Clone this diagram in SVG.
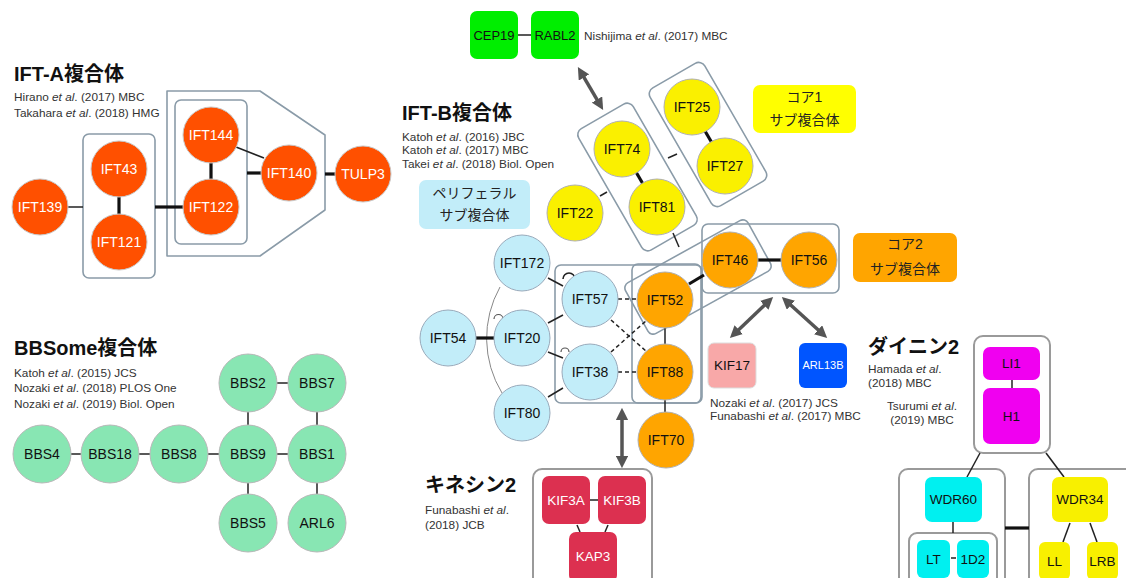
<svg xmlns="http://www.w3.org/2000/svg" width="1126" height="578" viewBox="0 0 1126 578">
<style>
text{font-family:"Liberation Sans","Noto Sans CJK JP",sans-serif;}
.title{font-size:20px;font-weight:bold;fill:#111;}
.ref{font-size:11.8px;fill:#333;}
.lbl{font-size:14px;fill:#111;text-anchor:middle;}
.wl{font-size:14px;fill:#fff;text-anchor:middle;}
.sm{font-size:13.5px;}
.jp{font-size:14px;fill:#222;text-anchor:middle;}
.a{fill:#FF5000;stroke:#c8c8c8;stroke-width:1;}
.g{fill:#88E6B3;stroke:#b8b8b8;stroke-width:1;}
.y{fill:#FAF000;stroke:#b0b0b0;stroke-width:1;}
.o{fill:#FFA500;stroke:#b0b0b0;stroke-width:1;}
.c{fill:#C2EDF9;stroke:#9ab;stroke-width:1;}
.box{fill:none;stroke:#8A9BA8;stroke-width:1.6;}
.dbox{fill:#fff;stroke:#9a9a9a;stroke-width:2;}
.e{stroke:#222;stroke-width:1.5;fill:none;}
.t{stroke:#111;stroke-width:3.2;fill:none;}
.d{stroke:#222;stroke-width:1.5;stroke-dasharray:4 3;fill:none;}
.arr{stroke:#555;stroke-width:3.5;fill:none;marker-start:url(#ah);marker-end:url(#ah);}
</style>
<defs>
<marker id="ah" viewBox="0 0 10 10" refX="3" refY="5" markerWidth="3.5" markerHeight="3.5" orient="auto-start-reverse">
<path d="M0,0 L10,5 L0,10 z" fill="#555"/>
</marker>
</defs>

<!-- titles and references -->
<g id="texts">
<text class="title" x="14" y="81">IFT-A複合体</text>
<text class="ref" x="14" y="101">Hirano <tspan font-style="italic">et al</tspan>. (2017) MBC</text>
<text class="ref" x="14" y="117">Takahara <tspan font-style="italic">et al</tspan>. (2018) HMG</text>

<text class="title" x="14" y="355">BBSome複合体</text>
<text class="ref" x="14" y="377">Katoh <tspan font-style="italic">et al</tspan>. (2015) JCS</text>
<text class="ref" x="14" y="392">Nozaki <tspan font-style="italic">et al</tspan>. (2018) PLOS One</text>
<text class="ref" x="14" y="408">Nozaki <tspan font-style="italic">et al</tspan>. (2019) Biol. Open</text>

<text class="title" x="402" y="120">IFT-B複合体</text>
<text class="ref" x="402" y="141">Katoh <tspan font-style="italic">et al</tspan>. (2016) JBC</text>
<text class="ref" x="402" y="154">Katoh <tspan font-style="italic">et al</tspan>. (2017) MBC</text>
<text class="ref" x="402" y="168">Takei <tspan font-style="italic">et al</tspan>. (2018) Biol. Open</text>

<text class="ref" x="584" y="40">Nishijima <tspan font-style="italic">et al</tspan>.  (2017) MBC</text>
<text class="ref" x="710" y="407">Nozaki <tspan font-style="italic">et al</tspan>. (2017) JCS</text>
<text class="ref" x="710" y="420">Funabashi <tspan font-style="italic">et al</tspan>.  (2017) MBC</text>

<text class="title" x="425" y="492">キネシン2</text>
<text class="ref" x="425" y="514">Funabashi <tspan font-style="italic">et al</tspan>.</text>
<text class="ref" x="425" y="529">(2018) JCB</text>

<text class="title" x="868" y="354">ダイニン2</text>
<text class="ref" x="868" y="373">Hamada <tspan font-style="italic">et al</tspan>.</text>
<text class="ref" x="868" y="387">(2018) MBC</text>
<text class="ref" x="922" y="410" text-anchor="middle">Tsurumi <tspan font-style="italic">et al</tspan>.</text>
<text class="ref" x="922" y="424" text-anchor="middle">(2019) MBC</text>
</g>

<!-- subcomplex labels -->
<g id="label-core1">
<rect x="753" y="85" width="103" height="48" rx="7" fill="#FFFF00"/>
<text class="jp" x="804.5" y="102">コア1</text>
<text class="jp" x="804.5" y="125">サブ複合体</text>
</g>
<g id="label-core2">
<rect x="853" y="233" width="104" height="49" rx="7" fill="#FFA500"/>
<text class="jp" x="905" y="249">コア2</text>
<text class="jp" x="905" y="274">サブ複合体</text>
</g>
<g id="label-peripheral">
<rect x="419" y="180" width="111" height="49" rx="7" fill="#C2EDF9"/>
<text class="jp" x="474.5" y="198">ペリフェラル</text>
<text class="jp" x="474.5" y="220">サブ複合体</text>
</g>

<!-- complex boxes -->
<g id="complex-boxes">
<rect class="box" x="83" y="134" width="72" height="144" rx="6"/>
<rect class="box" x="175" y="100" width="72" height="144" rx="6"/>
<polygon class="box" points="167,91 260,91 325,135 325,210 260,256 167,256" stroke-linejoin="round"/>
<rect class="box" x="-31.5" y="-70" width="63" height="140" rx="7" transform="translate(637.5,177) rotate(-30)"/>
<rect class="box" x="-31.5" y="-68" width="63" height="136" rx="7" transform="translate(708,134.5) rotate(-30)"/>
<rect class="box" x="702" y="224" width="137" height="69" rx="6"/>
<rect class="box" x="-70" y="-29" width="140" height="58" rx="6" transform="translate(698,277) rotate(-29)"/>
<rect class="box" x="555" y="265" width="147" height="138" rx="6"/>
<rect class="box" x="632" y="264" width="69" height="139" rx="6"/>
<rect class="dbox" x="533" y="469" width="119" height="120" rx="9"/>
<rect class="dbox" x="974" y="336" width="76" height="117" rx="9"/>
<rect class="dbox" x="899" y="469" width="106" height="120" rx="9"/>
<rect class="dbox" x="909" y="533" width="88" height="56" rx="8"/>
<rect class="dbox" x="1029" y="469" width="110" height="120" rx="9"/>
</g>

<!-- connectors -->
<g id="connectors">
<!-- IFT-A -->
<line class="e" x1="68" y1="207" x2="83" y2="207"/>
<line class="t" x1="119" y1="197" x2="119" y2="214"/>
<line class="t" x1="155" y1="207" x2="183" y2="207"/>
<line class="t" x1="211" y1="163" x2="211" y2="179"/>
<line class="e" x1="236" y1="147" x2="264" y2="158"/>
<line class="t" x1="247" y1="173" x2="262" y2="173"/>
<line class="t" x1="325" y1="174" x2="336" y2="174"/>
<!-- BBSome -->
<line class="e" x1="71" y1="454" x2="81" y2="454"/>
<line class="e" x1="139" y1="454" x2="150" y2="454"/>
<line class="e" x1="208" y1="454" x2="219" y2="454"/>
<line class="e" x1="277" y1="454" x2="288" y2="454"/>
<line class="e" x1="277" y1="383" x2="288" y2="383"/>
<line class="e" x1="248" y1="412" x2="248" y2="425"/>
<line class="e" x1="317" y1="412" x2="317" y2="425"/>
<line class="e" x1="248" y1="483" x2="248" y2="494"/>
<line class="e" x1="317" y1="483" x2="317" y2="494"/>
<!-- CEP19-RABL2 -->
<line class="e" x1="518" y1="35" x2="531" y2="35" stroke-width="2"/>
<!-- IFT-B core1 -->
<line class="t" x1="636" y1="172" x2="643" y2="184"/>
<line class="t" x1="705" y1="131" x2="712" y2="143"/>
<line class="e" x1="600" y1="196" x2="607" y2="192"/>
<line class="e" x1="668" y1="158" x2="677" y2="154"/>
<line class="e" x1="673" y1="233" x2="679" y2="247"/>
<!-- core2 -->
<line class="t" x1="689" y1="284" x2="704" y2="275"/>
<line class="t" x1="757" y1="260" x2="782" y2="260"/>
<line class="e" x1="665" y1="328" x2="665" y2="344"/>
<line class="e" x1="665" y1="400" x2="665" y2="412"/>
<!-- peripheral -->
<path d="M500,287 A105,105 0 0 0 502,393" stroke="#888" stroke-width="1" fill="none"/>
<line class="t" x1="476" y1="338" x2="494" y2="338"/>
<line class="e" x1="548" y1="278" x2="563" y2="286"/>
<line class="e" x1="548" y1="323" x2="563" y2="315"/>
<line class="e" x1="548" y1="352" x2="563" y2="358"/>
<line class="e" x1="548" y1="397" x2="563" y2="388"/>
<line class="d" x1="618" y1="299" x2="637" y2="299"/>
<line class="d" x1="618" y1="372" x2="637" y2="372"/>
<line class="d" x1="611" y1="320" x2="647" y2="352"/>
<line class="d" x1="611" y1="352" x2="647" y2="320"/>
<path d="M563,279 A6,6 0 0 1 575,279" stroke="#222" stroke-width="1.6" fill="#fff"/>
<path d="M494,319 A4.5,4.5 0 0 1 503,319" stroke="#555" stroke-width="1.2" fill="#fff"/>
<path d="M561,352 A4,4 0 0 1 569,352" stroke="#555" stroke-width="1.2" fill="#fff"/>
<!-- arrows -->
<line class="arr" x1="582.2" y1="74.3" x2="598.8" y2="102.7"/>
<line class="arr" x1="622" y1="416.4" x2="622" y2="459.6"/>
<line class="arr" x1="766.9" y1="302.8" x2="736.1" y2="332.2"/>
<line class="arr" x1="788.2" y1="302.7" x2="820.8" y2="332.3"/>
<!-- kinesin -->
<line class="e" x1="590" y1="500" x2="598" y2="500" stroke-width="2"/>
<line class="e" x1="577" y1="525" x2="580" y2="532"/>
<line class="e" x1="608" y1="525" x2="605" y2="532"/>
<!-- dynein -->
<line class="e" x1="1012" y1="380" x2="1012" y2="388"/>
<line class="e" x1="980" y1="453" x2="967" y2="477"/>
<line class="e" x1="1046" y1="453" x2="1064" y2="477"/>
<line class="t" x1="1005" y1="528" x2="1029" y2="528"/>
<line class="e" x1="953" y1="522" x2="953" y2="533"/>
<line class="e" x1="951" y1="558" x2="956" y2="558" stroke-width="2"/>
<line class="e" x1="1070" y1="523" x2="1063" y2="542"/>
<line class="e" x1="1090" y1="523" x2="1097" y2="542"/>
</g>

<!-- IFT-A nodes -->
<g id="IFT139"><circle class="a" cx="40" cy="207" r="28"/><text class="wl" x="40" y="212">IFT139</text></g>
<g id="IFT43"><circle class="a" cx="119" cy="169" r="28"/><text class="wl" x="119" y="174">IFT43</text></g>
<g id="IFT121"><circle class="a" cx="119" cy="242" r="28"/><text class="wl" x="119" y="247">IFT121</text></g>
<g id="IFT144"><circle class="a" cx="211" cy="135" r="28"/><text class="wl" x="211" y="140">IFT144</text></g>
<g id="IFT122"><circle class="a" cx="211" cy="207" r="28"/><text class="wl" x="211" y="212">IFT122</text></g>
<g id="IFT140"><circle class="a" cx="289" cy="173" r="28"/><text class="wl" x="289" y="178">IFT140</text></g>
<g id="TULP3"><circle class="a" cx="363" cy="174" r="28"/><text class="wl" x="363" y="179">TULP3</text></g>

<!-- BBSome nodes -->
<g id="BBS4"><circle class="g" cx="42" cy="454" r="29"/><text class="lbl" x="42" y="459">BBS4</text></g>
<g id="BBS18"><circle class="g" cx="110" cy="454" r="29"/><text class="lbl" x="110" y="459">BBS18</text></g>
<g id="BBS8"><circle class="g" cx="179" cy="454" r="29"/><text class="lbl" x="179" y="459">BBS8</text></g>
<g id="BBS9"><circle class="g" cx="248" cy="454" r="29"/><text class="lbl" x="248" y="459">BBS9</text></g>
<g id="BBS1"><circle class="g" cx="317" cy="454" r="29"/><text class="lbl" x="317" y="459">BBS1</text></g>
<g id="BBS2"><circle class="g" cx="248" cy="383" r="29"/><text class="lbl" x="248" y="388">BBS2</text></g>
<g id="BBS7"><circle class="g" cx="317" cy="383" r="29"/><text class="lbl" x="317" y="388">BBS7</text></g>
<g id="BBS5"><circle class="g" cx="248" cy="523" r="29"/><text class="lbl" x="248" y="528">BBS5</text></g>
<g id="ARL6"><circle class="g" cx="317" cy="523" r="29"/><text class="lbl" x="317" y="528">ARL6</text></g>

<!-- CEP19 / RABL2 -->
<g id="CEP19"><rect x="470" y="11" width="48" height="48" rx="7" fill="#00EE00"/><text class="lbl" x="494" y="40" style="font-size:13px">CEP19</text></g>
<g id="RABL2"><rect x="531" y="11" width="48" height="48" rx="7" fill="#00EE00"/><text class="lbl" x="555" y="40" style="font-size:13px">RABL2</text></g>

<!-- IFT-B core1 -->
<g id="IFT74"><circle class="y" cx="622" cy="149" r="28"/><text class="lbl" x="622" y="154">IFT74</text></g>
<g id="IFT81"><circle class="y" cx="657" cy="207" r="28"/><text class="lbl" x="657" y="212">IFT81</text></g>
<g id="IFT25"><circle class="y" cx="692" cy="107" r="28"/><text class="lbl" x="692" y="112">IFT25</text></g>
<g id="IFT27"><circle class="y" cx="725" cy="166" r="28"/><text class="lbl" x="725" y="171">IFT27</text></g>
<g id="IFT22"><circle class="y" cx="575" cy="213" r="28"/><text class="lbl" x="575" y="218">IFT22</text></g>

<!-- IFT-B core2 -->
<g id="IFT46"><circle class="o" cx="730" cy="260" r="28"/><text class="lbl" x="730" y="265">IFT46</text></g>
<g id="IFT56"><circle class="o" cx="809" cy="260" r="28"/><text class="lbl" x="809" y="265">IFT56</text></g>
<g id="IFT52"><circle class="o" cx="665" cy="300" r="28"/><text class="lbl" x="665" y="305">IFT52</text></g>
<g id="IFT88"><circle class="o" cx="665" cy="372" r="28"/><text class="lbl" x="665" y="377">IFT88</text></g>
<g id="IFT70"><circle class="o" cx="666" cy="440" r="28"/><text class="lbl" x="666" y="445">IFT70</text></g>

<!-- IFT-B peripheral -->
<g id="IFT57"><circle class="c" cx="590" cy="299" r="28"/><text class="lbl" x="590" y="304">IFT57</text></g>
<g id="IFT38"><circle class="c" cx="590" cy="372" r="28"/><text class="lbl" x="590" y="377">IFT38</text></g>
<g id="IFT20"><circle class="c" cx="522" cy="338" r="28"/><text class="lbl" x="522" y="343">IFT20</text></g>
<g id="IFT172"><circle class="c" cx="522" cy="263" r="28"/><text class="lbl" x="522" y="268">IFT172</text></g>
<g id="IFT54"><circle class="c" cx="448" cy="338" r="28"/><text class="lbl" x="448" y="343">IFT54</text></g>
<g id="IFT80"><circle class="c" cx="522" cy="413" r="28"/><text class="lbl" x="522" y="418">IFT80</text></g>

<!-- KIF17 / ARL13B -->
<g id="KIF17"><rect x="708" y="343" width="48" height="45" rx="6" fill="#F8A8A8" stroke="#ddd"/><text class="lbl sm" x="732" y="370">KIF17</text></g>
<g id="ARL13B"><rect x="799" y="343" width="48" height="45" rx="6" fill="#0055FF"/><text class="wl" x="823" y="369" style="font-size:11px">ARL13B</text></g>

<!-- kinesin-2 -->
<g id="KIF3A"><rect x="542" y="476" width="48" height="48" rx="7" fill="#DC3050"/><text class="wl sm" x="566" y="505">KIF3A</text></g>
<g id="KIF3B"><rect x="598" y="476" width="48" height="48" rx="7" fill="#DC3050"/><text class="wl sm" x="622" y="505">KIF3B</text></g>
<g id="KAP3"><rect x="569" y="532" width="48" height="50" rx="7" fill="#DC3050"/><text class="wl sm" x="593" y="561">KAP3</text></g>

<!-- dynein-2 -->
<g id="LI1"><rect x="983" y="347" width="57" height="33" rx="7" fill="#F000F0"/><text class="lbl sm" x="1011.5" y="368">LI1</text></g>
<g id="H1"><rect x="983" y="388" width="57" height="56" rx="7" fill="#F000F0"/><text class="lbl sm" x="1011.5" y="421">H1</text></g>
<g id="WDR60"><rect x="925" y="477" width="57" height="45" rx="7" fill="#00F0F0"/><text class="lbl sm" x="953.5" y="504">WDR60</text></g>
<g id="LT"><rect x="917" y="540" width="33" height="38" rx="6" fill="#00F0F0"/><text class="lbl sm" x="933.5" y="564">LT</text></g>
<g id="1D2"><rect x="957" y="540" width="32" height="38" rx="6" fill="#00F0F0"/><text class="lbl sm" x="973" y="564">1D2</text></g>
<g id="WDR34"><rect x="1052" y="477" width="56" height="45" rx="7" fill="#F8F000"/><text class="lbl sm" x="1080" y="504">WDR34</text></g>
<g id="LL"><rect x="1039" y="542" width="31" height="38" rx="6" fill="#F8F000"/><text class="lbl sm" x="1054.5" y="566">LL</text></g>
<g id="LRB"><rect x="1087" y="542" width="31" height="38" rx="6" fill="#F8F000"/><text class="lbl sm" x="1102.5" y="566">LRB</text></g>
</svg>
